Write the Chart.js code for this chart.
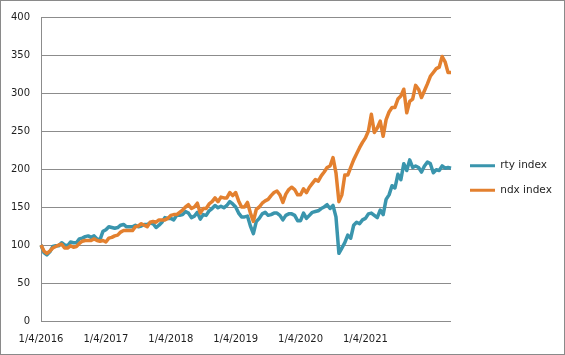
<!DOCTYPE html>
<html>
<head>
<meta charset="utf-8">
<script src="https://cdn.jsdelivr.net/npm/chart.js@4"></script>
<style>
  html, body { margin: 0; padding: 0; background: #fff; }
  #wrap { width: 565px; height: 355px; }
</style>
</head>
<body>
<div id="wrap"><canvas id="myChart" width="565" height="355"></canvas></div>
<script>
// semi-monthly samples, index = 100 on 1/4/2016
const rtyIndex = [
  100, 90, 87, 91, 98, 99, 99, 103, 100, 99, 104, 103, 103, 108, 109, 111, 112, 110, 112, 108, 107, 118, 120, 124,
  123, 122, 123, 126, 127, 124, 124, 124, 126, 124, 125, 127, 127, 129, 128, 123, 126, 130, 136, 135, 135, 133, 139, 139,
  140, 144, 142, 136, 138, 143, 134, 140, 139, 145, 148, 152, 149, 151, 149, 152, 157, 154, 150, 142, 137, 137, 138, 125,
  115, 131, 135, 141, 143, 139, 140, 142, 142, 139, 133, 139, 141, 141, 139, 132, 132, 142, 135, 139, 143, 144, 145, 148,
  150, 153, 148, 152, 137, 89, 96, 103, 113, 109, 126, 130, 128, 133, 135, 141, 142, 139, 136, 146, 140, 160, 166, 178,
  175, 193, 186, 207, 198, 212, 202, 204, 202, 196, 204, 209, 207, 195, 199, 198, 204, 201, 202, 201
];
const ndxIndex = [
  100, 92, 89, 92, 96, 98, 100, 101, 96, 96, 99, 97, 98, 102, 105, 106, 106, 106, 108, 106, 105, 106, 104, 109,
  110, 112, 113, 117, 119, 119, 119, 119, 124, 125, 128, 126, 124, 130, 131, 130, 133, 133, 133, 135, 139, 140, 140, 143,
  146, 150, 153, 148, 150, 155, 142, 148, 148, 154, 157, 162, 157, 163, 162, 162, 169, 165, 169, 158, 150, 150, 156, 142,
  131, 147, 150, 155, 158, 160, 165, 169, 171, 166, 156, 167, 173, 176, 173, 166, 166, 174, 169, 176, 181, 186, 184, 191,
  196, 202, 204, 215, 195, 157, 166, 192, 192, 202, 212, 220, 228, 235, 241, 250, 272, 248, 254, 263, 243, 265, 275, 281,
  281, 292, 296, 305, 274, 289, 292, 310, 305, 294, 303, 312, 322, 327, 332, 334, 348, 341, 327, 327
];
const tickLabels = ['1/4/2016', '1/4/2017', '1/4/2018', '1/4/2019', '1/4/2020', '1/4/2021'];
const LABEL_EVERY = 22; // category label interval, like the excel axis

const labels = rtyIndex.map((v, i) => (i % LABEL_EVERY === 0 && tickLabels[i / LABEL_EVERY]) || '');

const TEAL = '#3a95ad';
const ORANGE = '#e3802f';
const GRID = '#8c8c8c';
const TEXT = '#1e1e1e';
const FONT = 'DejaVu Sans';

// fixed legend width and small nudge so it sits like the excel one
const legendFix = {
  id: 'legendFix',
  beforeLayout(chart) {
    const lg = chart.legend;
    if (!lg || lg._patched) return;
    const fit = lg.fit;
    lg.fit = function () {
      fit.call(this);
      this.width = 114;
    };
    lg._patched = true;
  },
  afterLayout(chart) {
    const lg = chart.legend;
    lg.left += 5;
    lg.right += 5;
    lg.top -= 7;
    lg.bottom -= 7;
  }
};

const frame = {
  id: 'frame',
  afterDraw(chart) {
    const c = chart.ctx;
    c.save();
    c.strokeStyle = '#8a8a8a';
    c.lineWidth = 1;
    c.strokeRect(0.5, 0.5, chart.width - 1, chart.height - 1);
    c.restore();
  }
};

const ctx = document.getElementById('myChart');
new Chart(ctx, {
  type: 'line',
  data: {
    labels: labels,
    datasets: [
      {
        label: 'rty index',
        data: rtyIndex,
        borderColor: TEAL,
        backgroundColor: TEAL,
        borderWidth: 3.5,
        pointRadius: 0,
        borderJoinStyle: 'round',
        order: 1
      },
      {
        label: 'ndx index',
        data: ndxIndex,
        borderColor: ORANGE,
        backgroundColor: ORANGE,
        borderWidth: 3.5,
        pointRadius: 0,
        borderJoinStyle: 'round',
        order: 0
      }
    ]
  },
  options: {
    responsive: false,
    animation: false,
    layout: { padding: { top: 15, left: 0, right: 0, bottom: 0 } },
    plugins: {
      title: { display: false },
      tooltip: { enabled: false },
      legend: {
        position: 'right',
        align: 'center',
        labels: {
          boxWidth: 25,
          boxHeight: 3,
          padding: 14,
          color: TEXT,
          font: { family: FONT, size: 10.5 },
          sort: (a, b) => a.datasetIndex - b.datasetIndex,
          generateLabels(chart) {
            return Chart.defaults.plugins.legend.labels.generateLabels(chart)
              .map(item => Object.assign(item, { lineWidth: 0 }));
          }
        }
      }
    },
    scales: {
      x: {
        type: 'category',
        offset: false,
        grid: { display: false, drawTicks: false },
        border: { display: false },
        ticks: {
          autoSkip: false,
          maxRotation: 0,
          minRotation: 0,
          padding: 12,
          color: TEXT,
          font: { family: FONT, size: 10 },
          callback(value) { return this.getLabelForValue(value); }
        },
        afterFit(scale) { scale.height = 34; }
      },
      y: {
        min: 0,
        max: 400,
        ticks: {
          stepSize: 50,
          padding: 11,
          color: TEXT,
          font: { family: FONT, size: 10 }
        },
        grid: { color: GRID, lineWidth: 1, drawTicks: false },
        border: { display: true, color: GRID, width: 1 },
        afterFit(scale) { scale.width = 41; }
      }
    }
  },
  plugins: [legendFix, frame]
});
</script>
</body>
</html>
